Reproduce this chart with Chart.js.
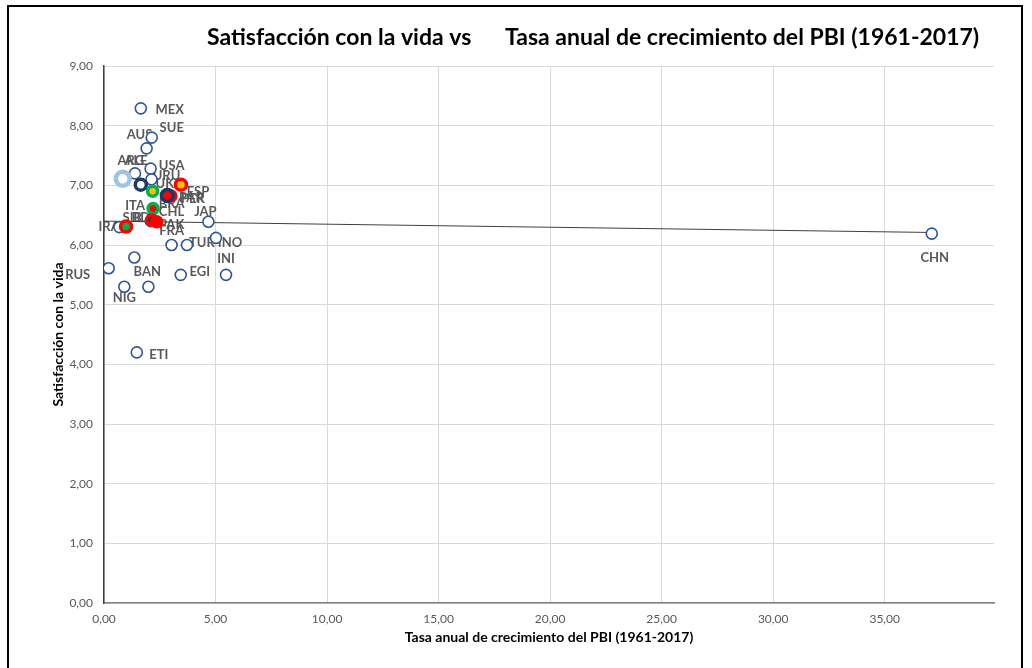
<!DOCTYPE html>
<html lang="es">
<head>
<meta charset="utf-8">
<title>Satisfacción con la vida vs Tasa anual de crecimiento del PBI</title>
<script src="https://cdn.jsdelivr.net/npm/chart.js@4"></script>
<style>
    html, body { margin: 0; padding: 0; background: #fff; }
    #wrap { width: 1032px; height: 668px; position: relative; }
</style>
</head>
<body>
<div id="wrap"><canvas id="grafico" width="1032" height="668"></canvas></div>
<script>
// --- Datos ---
const paises = ['MEX','SUE','AUS','ALE','USA','URU','SIB','BDI','JAP','FRA','TUR','INO','RUS','BAN','EGI','INI','NIG','','ETI','CHN',
                'ARG','UK','ESP','BRA','PER','PAR','ITA','CHL','PAK','IRA'];
const crecimientoPBI = [1.65, 2.14, 1.91, 1.39, 2.09, 2.13, 0.69, 2.10, 4.68, 3.03, 3.72, 5.02, 0.21, 1.36, 3.44, 5.47, 0.91, 1.99, 1.47, 37.11,
                        0.84, 1.65, 3.45, 2.18, 3.00, 2.84, 2.20, 2.13, 2.36, 0.99];
const satisfaccion = [8.29, 7.80, 7.62, 7.20, 7.28, 7.10, 6.30, 6.40, 6.39, 6.00, 6.00, 6.12, 5.61, 5.79, 5.50, 5.50, 5.30, 5.30, 4.20, 6.19,
                      7.11, 7.01, 7.01, 6.90, 6.82, 6.83, 6.61, 6.42, 6.39, 6.31];
// grupo de color (bandera) de cada país
const grupo = ['base','base','base','base','base','base','base','base','base','base','base','base','base','base','base','base','base','base','base','base',
               'celeste','marino','rojoAmarillo','verdeAmarillo','rojoBlanco','marinoRojo','verdeRojo','rojoMarino','rojo','rojoVerde'];

// línea de tendencia (extremos)
const tendenciaX = [0, 37.11];
const tendenciaY = [6.40, 6.21];

const ticksX = [0, 5, 10, 15, 20, 25, 30, 35];

// --- Estilos ---
const MARCADOR = {
    base:          { fondo: '#FFFFFF', borde: '#2F5597', ancho: 1.6, r: 5.5 },
    celeste:       { fondo: '#FFFFFF', borde: '#9DC3E6', ancho: 4.5, r: 7 },
    marino:        { fondo: '#FFFFFF', borde: '#1F3864', ancho: 3.5, r: 5.5 },
    rojoAmarillo:  { fondo: '#FFC000', borde: '#FF0000', ancho: 3.5, r: 5.5 },
    verdeAmarillo: { fondo: '#FFC000', borde: '#00B050', ancho: 3.5, r: 5 },
    rojoBlanco:    { fondo: '#FFFFFF', borde: '#FF0000', ancho: 3.5, r: 5 },
    marinoRojo:    { fondo: '#FF0000', borde: '#1F3864', ancho: 3.5, r: 6 },
    verdeRojo:     { fondo: '#FF0000', borde: '#00B050', ancho: 3.5, r: 5 },
    rojoMarino:    { fondo: '#1F3864', borde: '#FF0000', ancho: 3.5, r: 5 },
    rojo:          { fondo: '#FF0000', borde: '#FF0000', ancho: 3.5, r: 5 },
    rojoVerde:     { fondo: '#00B050', borde: '#FF0000', ancho: 3.5, r: 5.5 }
};

// desplazamiento de cada etiqueta respecto de su punto (px)
const POS_ETIQUETA = {
    MEX: [29, 1], SUE: [20, -10], AUS: [-7, -14], ALE: [1, -13], USA: [21, -3], URU: [15, -4],
    SIB: [13, -9], BDI: [-8, -3], JAP: [-3, -10], FRA: [0, -14], TUR: [15, -2], INO: [14, 5],
    RUS: [-31, 7], BAN: [13, 14], EGI: [19, -3], INI: [0, -16], NIG: [0, 11], ETI: [22, 2], CHN: [3, 24],
    ARG: [8, -18], UK: [24, -1], ESP: [17, 7], BRA: [19, 13], PER: [22, 3], PAR: [24, 2],
    ITA: [-18, -3], CHL: [20, -8], PAK: [15, 3], IRA: [-17, 0]
};

const FUENTE = 'Lato, "Open Sans", sans-serif';
const fmt = v => Number(v).toFixed(2).replace('.', ',');

const puntos = paises.map((p, i) => ({ x: crecimientoPBI[i], y: satisfaccion[i] }));
const estilos = grupo.map(g => MARCADOR[g]);

const decoracion = {
    id: 'decoracion',
    beforeDraw(chart) {
        const ctx = chart.ctx;
        ctx.save();
        ctx.fillStyle = '#fff';
        ctx.fillRect(0, 0, chart.width, chart.height);
        ctx.restore();
    },
    beforeDatasetsDraw(chart) {
        // etiquetas de datos (debajo de los marcadores, como en el original)
        const ctx = chart.ctx;
        const meta = chart.getDatasetMeta(1);
        ctx.save();
        ctx.font = 'bold 13px ' + FUENTE;
        ctx.fillStyle = '#595959';
        ctx.textAlign = 'center';
        ctx.textBaseline = 'middle';
        meta.data.forEach((el, i) => {
            const nombre = paises[i];
            if (!nombre) return;
            const off = POS_ETIQUETA[nombre] || [0, -12];
            ctx.fillText(nombre, el.x + off[0], el.y + off[1]);
        });
        ctx.restore();
    },
    afterDraw(chart) {
        const ctx = chart.ctx;
        ctx.save();
        // título
        ctx.font = 'bold 23px ' + FUENTE;
        ctx.fillStyle = '#000';
        ctx.textBaseline = 'middle';
        ctx.textAlign = 'left';
        ctx.fillText('Satisfacción con la vida vs', 207, 38);
        ctx.fillText('Tasa anual de crecimiento del PBI (1961-2017)', 505, 38);
        // marco
        ctx.strokeStyle = '#000';
        ctx.lineWidth = 2;
        ctx.strokeRect(8, 6, 1014, 700);
        ctx.restore();
    }
};

new Chart(document.getElementById('grafico').getContext('2d'), {
    type: 'scatter',
    data: {
        datasets: [
            {
                type: 'line',
                label: 'Tendencia',
                data: tendenciaX.map((x, i) => ({ x: x, y: tendenciaY[i] })),
                borderColor: '#404040',
                borderWidth: 1,
                pointRadius: 0,
                fill: false,
                order: 2
            },
            {
                label: 'Países',
                data: puntos,
                pointBackgroundColor: estilos.map(s => s.fondo),
                pointBorderColor: estilos.map(s => s.borde),
                pointBorderWidth: estilos.map(s => s.ancho),
                pointRadius: estilos.map(s => s.r),
                order: 1
            }
        ]
    },
    options: {
        responsive: false,
        animation: false,
        layout: { padding: { left: 40, right: 38, top: 66, bottom: 0 } },
        plugins: {
            legend: { display: false },
            tooltip: { enabled: false },
            title: { display: false }
        },
        scales: {
            x: {
                type: 'linear',
                min: 0,
                max: 39.9,
                afterBuildTicks: scale => { scale.ticks = ticksX.map(v => ({ value: v })); },
                afterFit: scale => { scale.height = 65; },
                grid: { color: '#D9D9D9', drawTicks: false },
                border: { color: '#7F7F7F', width: 1.5 },
                ticks: { padding: 9, color: '#595959', font: { family: FUENTE, size: 12 }, callback: v => fmt(v) },
                title: {
                    display: true,
                    text: 'Tasa anual de crecimiento del PBI (1961-2017)',
                    color: '#000',
                    font: { family: FUENTE, size: 14, weight: 'bold' },
                    padding: { top: 4, bottom: 22 }
                }
            },
            y: {
                min: 0,
                max: 9,
                afterFit: scale => { scale.width = 64; },
                grid: { color: '#D9D9D9', drawTicks: false },
                border: { color: '#404040', width: 1.5 },
                ticks: { stepSize: 1, padding: 11, color: '#595959', font: { family: FUENTE, size: 12 }, callback: v => fmt(v) },
                title: {
                    display: true,
                    text: 'Satisfacción con la vida',
                    color: '#000',
                    font: { family: FUENTE, size: 14, weight: 'bold' },
                    padding: { top: 10, bottom: 4 }
                }
            }
        }
    },
    plugins: [decoracion]
});
</script>
</body>
</html>
